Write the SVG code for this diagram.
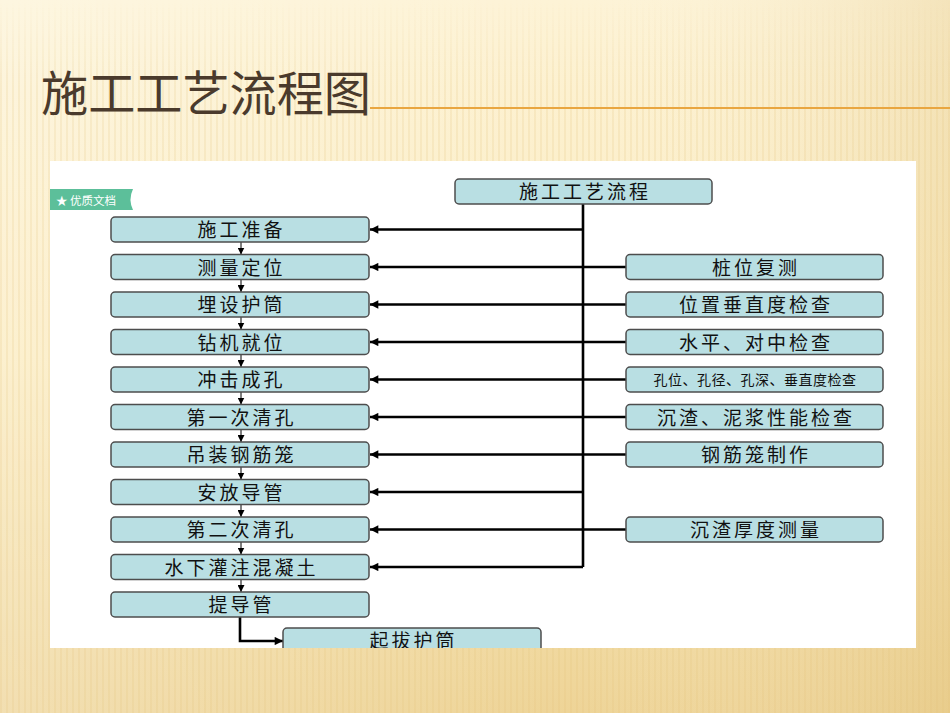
<svg xmlns="http://www.w3.org/2000/svg" width="950" height="713" viewBox="0 0 950 713">
<defs>
<linearGradient id="bg" x1="0" y1="0" x2="0" y2="1">
<stop offset="0" stop-color="#fdf3d6"/>
<stop offset="0.5" stop-color="#fbebbf"/>
<stop offset="1" stop-color="#eed497"/>
</linearGradient>
<linearGradient id="bgr" x1="0" y1="0" x2="1" y2="0">
<stop offset="0" stop-color="#ffffff" stop-opacity="0.25"/>
<stop offset="0.6" stop-color="#ffffff" stop-opacity="0"/>
<stop offset="1" stop-color="#d9b66a" stop-opacity="0.25"/>
</linearGradient>
<linearGradient id="fade" x1="0" y1="0" x2="0" y2="1">
<stop offset="0" stop-color="#fff" stop-opacity="0"/>
<stop offset="0.12" stop-color="#fff" stop-opacity="1"/>
<stop offset="1" stop-color="#fff" stop-opacity="1"/>
</linearGradient>
<mask id="stripemask"><rect x="0" y="0" width="950" height="713" fill="url(#fade)"/></mask>
<pattern id="stripes" width="6" height="10" patternUnits="userSpaceOnUse">
<rect x="0" y="0" width="2" height="10" fill="#e2c27c" opacity="0.18"/>
</pattern>
<clipPath id="panel"><rect x="50" y="161" width="866" height="487"/></clipPath>
<marker id="ah" viewBox="0 0 10 10" refX="10" refY="5" markerWidth="4" markerHeight="3.2" orient="auto" markerUnits="strokeWidth">
<path d="M0,0 L10,5 L0,10 z" fill="#000"/>
</marker>
<marker id="ahs" viewBox="0 0 10 10" refX="10" refY="5" markerWidth="7" markerHeight="7" orient="auto" markerUnits="strokeWidth">
<path d="M0,0 L10,5 L0,10 z" fill="#000"/>
</marker>
</defs>
<style>
.box{fill:#b9dfe3;stroke:#4d4d4d;stroke-width:1.5}
.t{font-family:"Noto Sans CJK SC","Noto Sans CJK TC",sans-serif;font-size:19px;fill:#111;text-anchor:middle;dominant-baseline:central;letter-spacing:3px}
.ts{font-family:"Noto Sans CJK SC",sans-serif;font-size:14px;fill:#111;text-anchor:middle;dominant-baseline:central;letter-spacing:0.5px}
.main{stroke:#000;stroke-width:2.6;fill:none}
.small{stroke:#000;stroke-width:1;fill:none}
</style>
<rect x="0" y="0" width="950" height="713" fill="url(#bg)"/>
<rect x="0" y="0" width="950" height="713" fill="url(#bgr)"/>
<rect x="0" y="0" width="950" height="713" fill="url(#stripes)" mask="url(#stripemask)"/>
<text x="41" y="111" textLength="330" lengthAdjust="spacingAndGlyphs" style="font-family:'Noto Sans CJK SC',sans-serif;font-size:48px;fill:#4a3a2c">施工工艺流程图</text>
<line x1="370" y1="108" x2="950" y2="108" stroke="#e9a640" stroke-width="2"/>
<rect x="50" y="161" width="866" height="487" fill="#ffffff"/>
<g id="badge">
<path d="M50,189 L133,189 Q128,199.5 133,210 L50,210 z" fill="#5cbf9a"/>
<text x="56" y="199.5" style="font-family:'Noto Sans CJK SC',sans-serif;font-size:11.5px;fill:#fff;dominant-baseline:central">★ 优质文档</text>
</g>
<g clip-path="url(#panel)">
<g id="connectors">
<line class="main" x1="583" y1="204" x2="583" y2="567"/>
<path class="main" d="M583,229.5 H370" marker-end="url(#ah)"/>
<path class="main" d="M626,267 H370" marker-end="url(#ah)"/>
<path class="main" d="M626,304.5 H370" marker-end="url(#ah)"/>
<path class="main" d="M626,342 H370" marker-end="url(#ah)"/>
<path class="main" d="M626,379.5 H370" marker-end="url(#ah)"/>
<path class="main" d="M626,417 H370" marker-end="url(#ah)"/>
<path class="main" d="M626,454.5 H370" marker-end="url(#ah)"/>
<path class="main" d="M583,492 H370" marker-end="url(#ah)"/>
<path class="main" d="M626,529.5 H370" marker-end="url(#ah)"/>
<path class="main" d="M583,567 H370" marker-end="url(#ah)"/>
<path class="small" d="M241,242 V254.5" marker-end="url(#ahs)"/>
<path class="small" d="M241,279.5 V292" marker-end="url(#ahs)"/>
<path class="small" d="M241,317 V329.5" marker-end="url(#ahs)"/>
<path class="small" d="M241,354.5 V367" marker-end="url(#ahs)"/>
<path class="small" d="M241,392 V404.5" marker-end="url(#ahs)"/>
<path class="small" d="M241,429.5 V442" marker-end="url(#ahs)"/>
<path class="small" d="M241,467 V479.5" marker-end="url(#ahs)"/>
<path class="small" d="M241,504.5 V517" marker-end="url(#ahs)"/>
<path class="small" d="M241,542 V554.5" marker-end="url(#ahs)"/>
<path class="small" d="M241,579.5 V592" marker-end="url(#ahs)"/>
<path class="main" d="M240,617 V641 H283" stroke-width="2" marker-end="url(#ah)"/>
</g>
<g id="n-top"><rect class="box" x="455" y="179" width="257" height="25" rx="4"/><text class="t" x="585" y="190.5">施工工艺流程</text></g>
<g id="n0"><rect class="box" x="111" y="217" width="258" height="25" rx="4"/><text class="t" x="241.5" y="228.5">施工准备</text></g>
<g id="n1"><rect class="box" x="111" y="254.5" width="258" height="25" rx="4"/><text class="t" x="241.5" y="266">测量定位</text></g>
<g id="n2"><rect class="box" x="111" y="292" width="258" height="25" rx="4"/><text class="t" x="241.5" y="303.5">埋设护筒</text></g>
<g id="n3"><rect class="box" x="111" y="329.5" width="258" height="25" rx="4"/><text class="t" x="241.5" y="341">钻机就位</text></g>
<g id="n4"><rect class="box" x="111" y="367" width="258" height="25" rx="4"/><text class="t" x="241.5" y="378.5">冲击成孔</text></g>
<g id="n5"><rect class="box" x="111" y="404.5" width="258" height="25" rx="4"/><text class="t" x="241.5" y="416">第一次清孔</text></g>
<g id="n6"><rect class="box" x="111" y="442" width="258" height="25" rx="4"/><text class="t" x="241.5" y="453.5">吊装钢筋笼</text></g>
<g id="n7"><rect class="box" x="111" y="479.5" width="258" height="25" rx="4"/><text class="t" x="241.5" y="491">安放导管</text></g>
<g id="n8"><rect class="box" x="111" y="517" width="258" height="25" rx="4"/><text class="t" x="241.5" y="528.5">第二次清孔</text></g>
<g id="n9"><rect class="box" x="111" y="554.5" width="258" height="25" rx="4"/><text class="t" x="241.5" y="566">水下灌注混凝土</text></g>
<g id="n10"><rect class="box" x="111" y="592" width="258" height="25" rx="4"/><text class="t" x="241.5" y="603.5">提导管</text></g>
<g id="n11"><rect class="box" x="283" y="628" width="258" height="25" rx="4"/><text class="t" x="413.5" y="639.5">起拔护筒</text></g>
<g id="r1"><rect class="box" x="626" y="254.5" width="257" height="25" rx="4"/><text class="t" x="756" y="266">桩位复测</text></g>
<g id="r2"><rect class="box" x="626" y="292" width="257" height="25" rx="4"/><text class="t" x="756" y="303.5">位置垂直度检查</text></g>
<g id="r3"><rect class="box" x="626" y="329.5" width="257" height="25" rx="4"/><text class="t" x="756" y="341">水平、对中检查</text></g>
<g id="r4"><rect class="box" x="626" y="367" width="257" height="25" rx="4"/><text class="ts" x="755" y="379">孔位、孔径、孔深、垂直度检查</text></g>
<g id="r5"><rect class="box" x="626" y="404.5" width="257" height="25" rx="4"/><text class="t" x="756" y="416">沉渣、泥浆性能检查</text></g>
<g id="r6"><rect class="box" x="626" y="442" width="257" height="25" rx="4"/><text class="t" x="756" y="453.5">钢筋笼制作</text></g>
<g id="r8"><rect class="box" x="626" y="517" width="257" height="25" rx="4"/><text class="t" x="756" y="528.5">沉渣厚度测量</text></g>
</g>
</svg>
